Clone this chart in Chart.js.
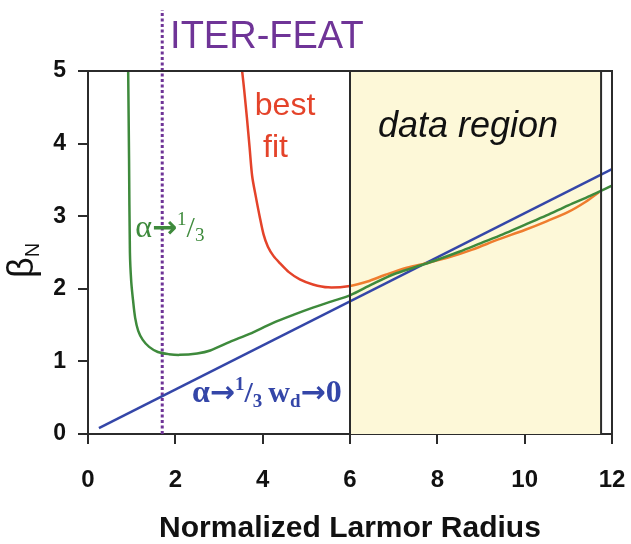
<!DOCTYPE html>
<html>
<head>
<meta charset="utf-8">
<script src="https://cdn.jsdelivr.net/npm/chart.js@4.4.1/dist/chart.umd.min.js"></script>
<style>
html,body{margin:0;padding:0;background:#fff;}
#wrap{width:631px;height:544px;}
</style>
</head>
<body>
<div id="wrap"><canvas id="chart" width="631" height="544"></canvas></div>
<script>
// DATA
const xTickValues = [0, 2, 4, 6, 8, 10, 12];
const yTickValues = [0, 1, 2, 3, 4, 5];

const regionX = [6, 11.75];
const iterX = [1.7, 1.7];
const iterY = [0, 5.84];

const blueX = [0.25, 12];
const blueY = [0.08, 3.65];

const greenX = [0.92, 0.94, 0.96, 0.99, 1.03, 1.08, 1.15, 1.25, 1.4, 1.6, 1.85, 2.1, 2.5, 2.8, 3.25, 3.7, 4.24, 4.7, 5.15, 5.6, 6.0, 6.5, 7.0, 7.5, 8.0, 8.5, 9.0, 9.5, 10.0, 10.5, 11.0, 11.5, 12.0];
const greenY = [5.0, 3.8, 2.5, 2.1, 1.85, 1.6, 1.42, 1.3, 1.2, 1.13, 1.1, 1.09, 1.11, 1.15, 1.27, 1.38, 1.53, 1.64, 1.74, 1.83, 1.91, 2.06, 2.2, 2.3, 2.4, 2.51, 2.63, 2.75, 2.88, 3.01, 3.15, 3.28, 3.42];

const redX = [3.53, 3.58, 3.64, 3.7, 3.76, 3.84, 3.93, 4.02, 4.12, 4.25, 4.4, 4.6, 4.85, 5.15, 5.5, 6.0, 6.4, 6.8, 7.3, 7.8, 8.3, 8.8, 9.4, 10.0, 10.5, 11.0, 11.4, 11.7];
const redY = [5.0, 4.72, 4.35, 3.95, 3.55, 3.28, 3.0, 2.75, 2.58, 2.45, 2.35, 2.23, 2.13, 2.06, 2.02, 2.04, 2.1, 2.19, 2.29, 2.36, 2.44, 2.54, 2.68, 2.81, 2.93, 3.06, 3.2, 3.33];

// STYLE
const SANS = "'Liberation Sans', Arial, sans-serif";
const SERIF = "'Liberation Serif', 'Times New Roman', serif";
const ARROW = "'DejaVu Sans', sans-serif";
const AXIS = '#2b2b2b';
const PURPLE = '#6f3497';
const BLUE = '#3446a8';
const GREEN = '#3e8a3c';
const RED = '#e4432a';
const ORANGE = '#ef7d2e';
const YELLOW = '#fdf8d8';

function pts(xs, ys){ return xs.map((x,i)=>({x:x, y:ys[i]})); }

function drawRuns(ctx, x, y, runs, color){
  ctx.fillStyle = color;
  ctx.textAlign = 'left';
  ctx.textBaseline = 'alphabetic';
  runs.forEach(r=>{
    ctx.font = r.font;
    ctx.fillText(r.t, x, y + (r.dy || 0));
    x += ctx.measureText(r.t).width + (r.gap || 0);
  });
}

// region fill, frame and labels
const decorPlugin = {
  id: 'decor',
  beforeDatasetsDraw(chart){
    const {ctx, chartArea:a, scales:{x}} = chart;
    ctx.save();
    ctx.fillStyle = YELLOW;
    const x0 = x.getPixelForValue(regionX[0]), x1 = x.getPixelForValue(regionX[1]);
    ctx.fillRect(x0, a.top, x1 - x0, a.bottom - a.top);
    ctx.restore();
  },
  afterDatasetsDraw(chart){
    const {ctx, chartArea:a, scales:{x, y}} = chart;
    ctx.save();
    ctx.strokeStyle = AXIS;
    ctx.lineWidth = 2;
    ctx.beginPath();
    regionX.forEach(v=>{
      const px = x.getPixelForValue(v);
      ctx.moveTo(px, a.top); ctx.lineTo(px, a.bottom);
    });
    ctx.moveTo(a.left, a.top); ctx.lineTo(a.right, a.top); ctx.lineTo(a.right, a.bottom);
    ctx.stroke();

    const P = (vx, vy) => [x.getPixelForValue(vx), y.getPixelForValue(vy)];

    // ITER-FEAT
    let [tx, ty] = P(1.88, 5.32);
    drawRuns(ctx, tx, ty, [{t:'ITER-FEAT', font:'38px ' + SANS}], PURPLE);

    // best fit
    [tx, ty] = P(3.82, 4.39);
    drawRuns(ctx, tx, ty, [{t:'best', font:'32px ' + SANS}], RED);
    [tx, ty] = P(4.01, 3.82);
    drawRuns(ctx, tx, ty, [{t:'fit', font:'32px ' + SANS}], RED);

    // data region
    [tx, ty] = P(6.64, 4.09);
    drawRuns(ctx, tx, ty, [{t:'data region', font:'italic 36px ' + SANS}], '#111');

    // alpha -> 1/3
    [tx, ty] = P(1.08, 2.71);
    drawRuns(ctx, tx, ty, [
      {t:'\u03b1', font:'32px ' + SERIF},
      {t:'\u2192', font:'bold 30px ' + ARROW},
      {t:'1', font:'19px ' + SERIF, dy:-12},
      {t:'/', font:'30px ' + SERIF},
      {t:'3', font:'19px ' + SERIF, dy:4}
    ], GREEN);

    // alpha -> 1/3  w_d -> 0
    [tx, ty] = P(2.38, 0.44);
    drawRuns(ctx, tx, ty, [
      {t:'\u03b1', font:'bold 32px ' + SERIF},
      {t:'\u2192', font:'bold 30px ' + ARROW},
      {t:'1', font:'bold 19px ' + SERIF, dy:-12},
      {t:'/', font:'bold 30px ' + SERIF},
      {t:'3', font:'bold 19px ' + SERIF, dy:5, gap:6},
      {t:'w', font:'bold 30px ' + SERIF},
      {t:'d', font:'bold 19px ' + SERIF, dy:5},
      {t:'\u2192', font:'bold 30px ' + ARROW},
      {t:'0', font:'bold 32px ' + SERIF}
    ], BLUE);

    // y axis title beta_N
    ctx.translate(33, 278);
    ctx.rotate(-Math.PI / 2);
    drawRuns(ctx, 0, 0, [
      {t:'\u03b2', font:'36px ' + SANS},
      {t:'N', font:'20px ' + SANS, dy:6}
    ], '#111');
    ctx.restore();
  }
};

const ctx = document.getElementById('chart').getContext('2d');
const chart = new Chart(ctx, {
  type: 'scatter',
  data: {
    datasets: [
      {label:'ITER-FEAT', data:pts(iterX, iterY), showLine:true, borderColor:PURPLE, borderWidth:3, borderDash:[3, 2.5], pointRadius:0, clip:false, order:4},
      {label:'alpha 1/3 wd 0', data:pts(blueX, blueY), showLine:true, borderColor:BLUE, borderWidth:2.5, pointRadius:0, order:3},
      {label:'alpha 1/3', data:pts(greenX, greenY), showLine:true, borderColor:GREEN, borderWidth:2.5, pointRadius:0, tension:0.3, order:1},
      {label:'best fit', data:pts(redX, redY), showLine:true, borderColor:RED, borderWidth:2.5, pointRadius:0, tension:0.3, order:2,
        segment:{borderColor: c => c.p0.parsed.x >= regionX[0] ? ORANGE : RED}}
    ]
  },
  options: {
    responsive: false,
    animation: false,
    layout: {padding: {top:71, right:19, left:0, bottom:0}},
    plugins: {legend:{display:false}, tooltip:{enabled:false}},
    scales: {
      x: {
        type: 'linear', min: 0, max: 12,
        afterBuildTicks: s => { s.ticks = xTickValues.map(v=>({value:v})); },
        afterFit: s => { s.height = 110; s.paddingLeft = 0; s.paddingRight = 0; },
        grid: {drawOnChartArea:false, drawTicks:true, tickLength:10, color:AXIS, lineWidth:2},
        border: {display:true, color:AXIS, width:2},
        ticks: {color:'#111', padding:22, font:{family:SANS, size:24, weight:'bold'}},
        title: {display:true, text:'Normalized Larmor Radius', color:'#111', padding:{top:0, bottom:0},
          font:{family:SANS, size:30, weight:'bold', lineHeight:1}}
      },
      y: {
        type: 'linear', min: 0, max: 5,
        afterBuildTicks: s => { s.ticks = yTickValues.map(v=>({value:v})); },
        afterFit: s => { s.width = 88; s.paddingTop = 0; s.paddingBottom = 0; },
        grid: {drawOnChartArea:false, drawTicks:true, tickLength:10, color:AXIS, lineWidth:2},
        border: {display:true, color:AXIS, width:2},
        ticks: {color:'#111', padding:12, font:{family:SANS, size:23, weight:'bold'}}
      }
    }
  },
  plugins: [decorPlugin]
});
</script>
</body>
</html>
